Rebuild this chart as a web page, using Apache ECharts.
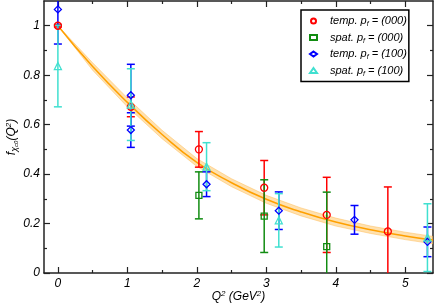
<!DOCTYPE html>
<html><head><meta charset="utf-8">
<script src="https://cdn.jsdelivr.net/npm/echarts@6/dist/echarts.min.js"></script>
<style>html,body{margin:0;padding:0;background:#fff}#c{width:436px;height:305px}</style>
</head><body><div id="c"></div>
<script>
// ---- data ----
const xTicks = [0, 1, 2, 3, 4, 5];
const xMinor = [0.5, 1.5, 2.5, 3.5, 4.5];
const yTicks = [0, 0.2, 0.4, 0.6, 0.8, 1.0];
const yMinor = [0.1, 0.3, 0.5, 0.7, 0.9];

const tempQ2_000 = [0, 1.05, 2.03, 2.97, 3.87, 4.75];
const tempF_000  = [1.0, 0.672, 0.50, 0.345, 0.235, 0.168];
const tempE_000  = [0.005, 0.04, 0.072, 0.11, 0.152, 0.18];

const spatQ2_000 = [2.03, 2.97, 3.87];
const spatF_000  = [0.314, 0.230, 0.107];
const spatE_000  = [0.095, 0.147, 0.22];

const tempQ2_100 = [0, 1.05, 1.05, 2.14, 3.18, 4.27, 5.32];
const tempF_100  = [1.066, 0.719, 0.578, 0.359, 0.252, 0.215, 0.126];
const tempE_100  = [0.14, 0.125, 0.07, 0.05, 0.076, 0.058, 0.06];

const spatQ2_100 = [0, 1.05, 2.14, 3.18, 5.32];
const spatF_100  = [0.837, 0.681, 0.43, 0.213, 0.143];
const spatE_100  = [0.165, 0.145, 0.097, 0.108, 0.137];

const fitQ2   = [0, 0.5, 1.0, 1.5, 2.0, 2.5, 3.0, 3.5, 4.0, 4.5, 5.0, 5.4];
const fitF    = [1.0, 0.835, 0.69, 0.56, 0.447, 0.365, 0.298, 0.247, 0.206, 0.175, 0.150, 0.133];
const fitHigh = [1.0, 0.85, 0.708, 0.577, 0.463, 0.381, 0.314, 0.263, 0.222, 0.19, 0.165, 0.148];
const fitLow  = [1.0, 0.82, 0.672, 0.543, 0.431, 0.349, 0.282, 0.231, 0.19, 0.16, 0.135, 0.118];

const names = ['temp. pf = (000)', 'spat. pf = (000)', 'temp. pf = (100)', 'spat. pf = (100)'];
const colors = ['#ff0000', '#118c11', '#0000ff', '#40e0d0'];
// ---------------------------------------

const FONT = 'Liberation Sans';
const axisCol = '#222';

function errSeries(xs, ys, es, color) {
  return {
    type: 'custom', clip: true, silent: true, z: 3,
    data: xs.map((x, i) => [x, ys[i] - es[i], ys[i] + es[i]]),
    renderItem: function (params, api) {
      const lo = api.coord([api.value(0), api.value(1)]);
      const hi = api.coord([api.value(0), api.value(2)]);
      const hw = 4;
      const st = { stroke: color, lineWidth: 1.5 };
      return { type: 'group', children: [
        { type: 'line', shape: { x1: lo[0], y1: lo[1], x2: hi[0], y2: hi[1] }, style: st },
        { type: 'line', shape: { x1: lo[0] - hw, y1: lo[1], x2: lo[0] + hw, y2: lo[1] }, style: st },
        { type: 'line', shape: { x1: hi[0] - hw, y1: hi[1], x2: hi[0] + hw, y2: hi[1] }, style: st }
      ]};
    }
  };
}
function ptSeries(name, xs, ys, symbol, size, color) {
  return {
    type: 'scatter', name: name, symbol: symbol, symbolSize: size, z: 4,
    data: xs.map((x, i) => [x, ys[i]]),
    itemStyle: { color: 'rgba(255,255,255,0)', borderColor: color, borderWidth: 1.3, opacity: 1 }
  };
}
function mkX(pos, ticks, len, showLine, showLabel) {
  return {
    type: 'value', position: pos, min: -0.2, max: 5.4,
    axisLine: { show: showLine, onZero: false, lineStyle: { color: axisCol, width: 1.5 } },
    axisTick: { show: true, inside: true, length: len, customValues: ticks, lineStyle: { color: axisCol, width: 1.2 } },
    axisLabel: { show: showLabel, customValues: ticks, margin: 5, fontFamily: FONT, fontStyle: 'italic', fontSize: 12, color: '#000' },
    splitLine: { show: false }
  };
}
function mkY(pos, ticks, len, showLine, showLabel) {
  return {
    type: 'value', position: pos, min: 0, max: 1.1,
    axisLine: { show: showLine, onZero: false, lineStyle: { color: axisCol, width: 1.5 } },
    axisTick: { show: true, inside: true, length: len, customValues: ticks, lineStyle: { color: axisCol, width: 1.2 } },
    axisLabel: { show: showLabel, customValues: ticks, margin: 4, fontFamily: FONT, fontStyle: 'italic', fontSize: 12, color: '#000',
      formatter: v => (v === 0 ? '0' : (v === 1 ? '1' : v.toFixed(1))) },
    splitLine: { show: false }
  };
}

const xAxes = [mkX('bottom', xTicks, 6, true, true), mkX('bottom', xMinor, 3, false, false),
               mkX('top', xTicks, 6, true, false), mkX('top', xMinor, 3, false, false)];
xAxes[0].name = 'Q{sup|2} (GeV{sup|2})';
xAxes[0].nameLocation = 'middle';
xAxes[0].nameGap = 17;
xAxes[0].nameMoveOverlap = false;
xAxes[0].nameTextStyle = { fontFamily: FONT, fontStyle: 'italic', fontSize: 12, color: '#000', lineHeight: 14,
  rich: { sup: { fontFamily: FONT, fontStyle: 'italic', fontSize: 8, lineHeight: 4, verticalAlign: 'top', color: '#000' } } };

const yAxes = [mkY('left', yTicks, 6, true, true), mkY('left', yMinor, 3, false, false),
               mkY('right', yTicks, 6, true, false), mkY('right', yMinor, 3, false, false)];
yAxes[0].name = 'f{sub|χ}{sub2|c0}(Q{sup|2})';
yAxes[0].nameLocation = 'middle';
yAxes[0].nameRotate = 90;
yAxes[0].nameGap = 25;
yAxes[0].nameMoveOverlap = false;
yAxes[0].nameTextStyle = { fontFamily: FONT, fontStyle: 'italic', fontSize: 12, color: '#000', lineHeight: 14,
  rich: {
    sub: { fontFamily: FONT, fontStyle: 'italic', fontSize: 9, lineHeight: 4, verticalAlign: 'bottom', color: '#000' },
    sub2: { fontFamily: FONT, fontStyle: 'italic', fontSize: 6, lineHeight: 1, verticalAlign: 'bottom', color: '#000' },
    sup: { fontFamily: FONT, fontStyle: 'italic', fontSize: 8, lineHeight: 4, verticalAlign: 'top', color: '#000' }
  } };

const bandSeries = {
  type: 'custom', clip: true, silent: true, z: 1,
  data: [[0]],
  renderItem: function (params, api) {
    const pts = [];
    for (let i = 0; i < fitQ2.length; i++) pts.push(api.coord([fitQ2[i], fitHigh[i]]));
    for (let i = fitQ2.length - 1; i >= 0; i--) pts.push(api.coord([fitQ2[i], fitLow[i]]));
    return { type: 'polygon', shape: { points: pts, smooth: 0 }, style: { fill: 'rgba(255,200,110,0.55)', stroke: 'rgba(255,190,90,0.5)', lineWidth: 1 } };
  }
};
const lineSeries = {
  type: 'line', smooth: true, symbol: 'none', z: 2, silent: true,
  data: fitQ2.map((x, i) => [x, fitF[i]]),
  lineStyle: { color: '#ffa000', width: 1.5 }
};

const series = [bandSeries, lineSeries,
  errSeries(tempQ2_000, tempF_000, tempE_000, colors[0]),
  errSeries(spatQ2_000, spatF_000, spatE_000, colors[1]),
  errSeries(tempQ2_100, tempF_100, tempE_100, colors[2]),
  errSeries(spatQ2_100, spatF_100, spatE_100, colors[3]),
  ptSeries(names[0], tempQ2_000, tempF_000, 'circle', 7, colors[0]),
  ptSeries(names[1], spatQ2_000, spatF_000, 'rect', 6, colors[1]),
  ptSeries(names[2], tempQ2_100, tempF_100, 'diamond', 7, colors[2]),
  ptSeries(names[3], spatQ2_100, spatF_100, 'triangle', 7, colors[3])
];

const chart = echarts.init(document.getElementById('c'), null, { renderer: 'canvas' });
chart.setOption({
  animation: false,
  backgroundColor: '#fff',
  grid: { left: 44, right: 3, top: 1, bottom: 32, outerBoundsMode: 'none', containLabel: false },
  xAxis: xAxes,
  yAxis: yAxes,
  legend: {
    data: names, orient: 'vertical', left: 301, top: 10,
    backgroundColor: '#fff', borderColor: '#000', borderWidth: 1.5, borderRadius: 0,
    padding: [4, 2, 4, 8], itemGap: 2.5, itemWidth: 7, itemHeight: 5,
    formatter: n => n.replace('pf', 'p{sub|f}'),
    textStyle: { fontFamily: FONT, fontStyle: 'italic', fontSize: 11, color: '#000', lineHeight: 14, padding: [0, 0, 0, 8],
      rich: { sub: { fontFamily: FONT, fontStyle: 'italic', fontSize: 7, lineHeight: 4, verticalAlign: 'bottom', color: '#000' } } }
  },
  series: series
});
</script></body></html>
